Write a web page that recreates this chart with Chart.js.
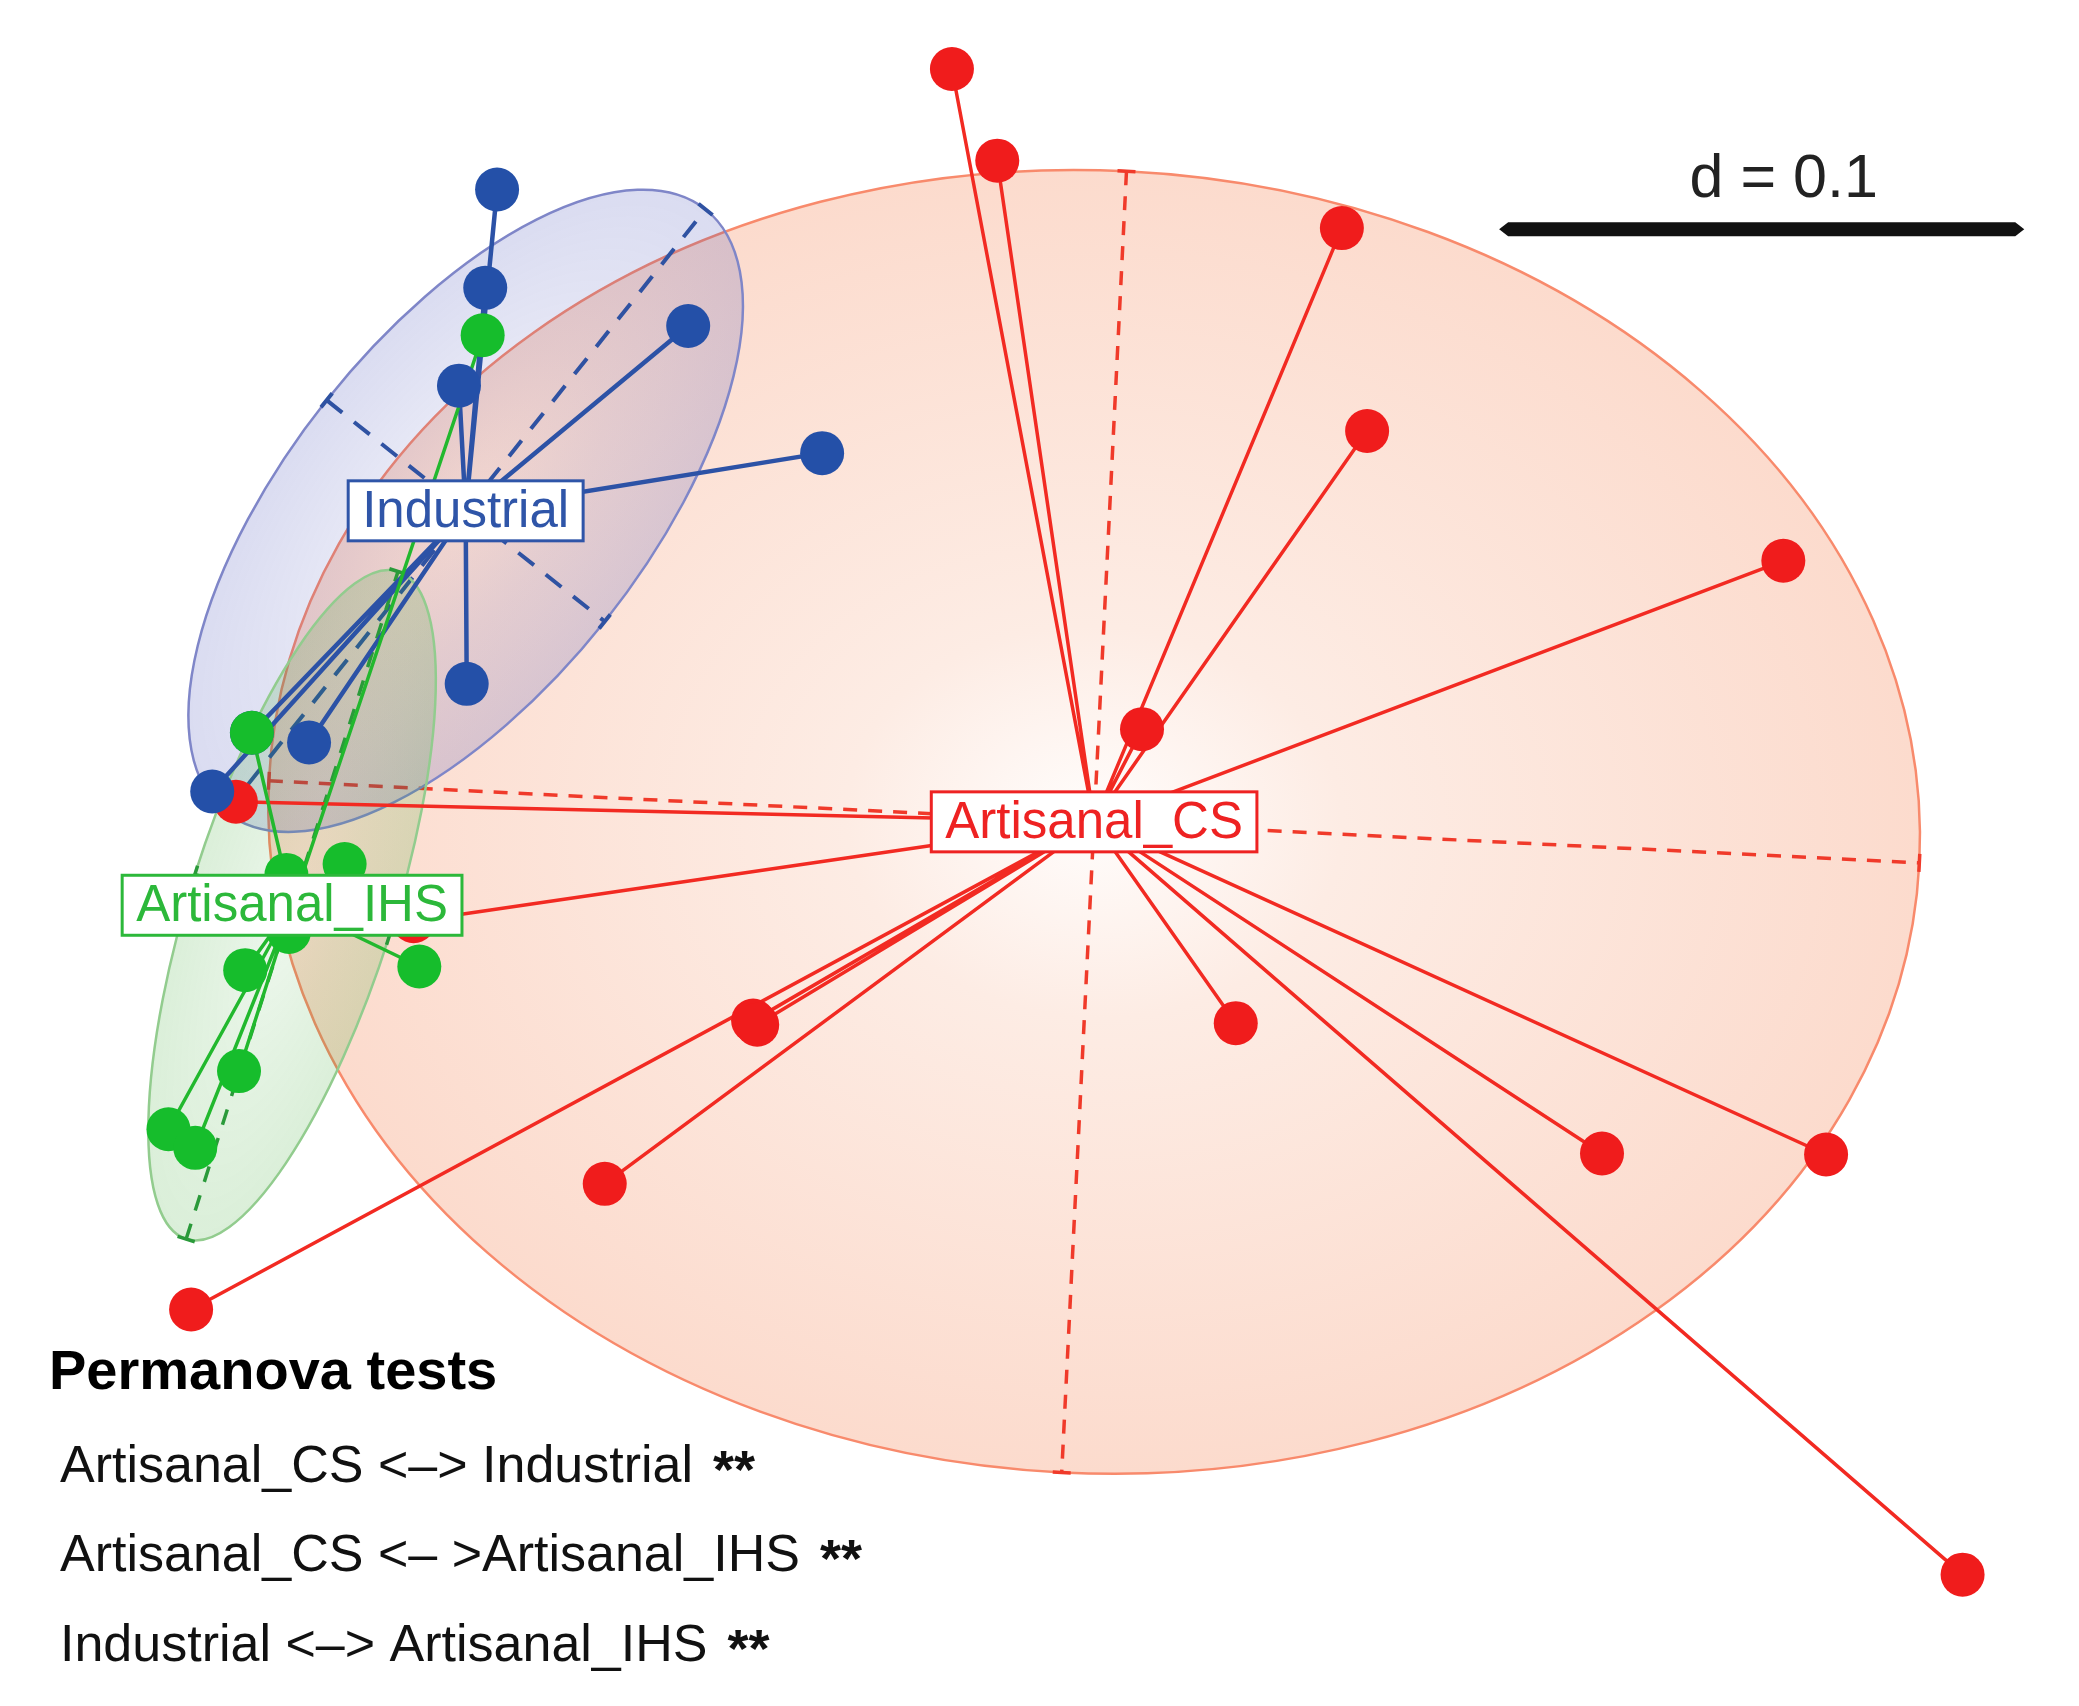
<!DOCTYPE html>
<html>
<head>
<meta charset="utf-8">
<script src="https://cdn.jsdelivr.net/npm/chart.js@4.4.0/dist/chart.umd.min.js"></script>
<style>
html,body{margin:0;padding:0;background:#ffffff;}
#wrap{width:2079px;height:1706px;position:relative;}
</style>
</head>
<body>
<div id="wrap"><canvas id="c" width="2079" height="1706"></canvas></div>
<script>
// ---- Data (ordination coordinates) ----
const groups = ['Artisanal_CS', 'Industrial', 'Artisanal_IHS'];

const artisanalCS_x = [-0.0160, -0.0072, 0.0597, 0.0646, 0.1454, 0.0209, -0.1550, -0.1205, -0.0546, -0.0538, -0.0834, -0.1637, 0.0391, 0.1102, 0.1537, 0.1802];
const artisanalCS_y = [0.1462, 0.1284, 0.1153, 0.0759, 0.0507, 0.0180, 0.0039, -0.0193, -0.0386, -0.0394, -0.0703, -0.0947, -0.0391, -0.0644, -0.0646, -0.1462];

const industrial_x = [-0.1043, -0.1066, -0.0672, -0.1117, -0.0412, -0.1102, -0.1408, -0.1596, -0.1519];
const industrial_y = [0.1228, 0.1037, 0.0963, 0.0847, 0.0716, 0.0268, 0.0154, 0.0059, 0.0173];

const artisanalIHS_x = [-0.1071, -0.1519, -0.1452, -0.1339, -0.1447, -0.1532, -0.1194, -0.1544, -0.1681, -0.1629];
const artisanalIHS_y = [0.0945, 0.0173, -0.0103, -0.0082, -0.0214, -0.0288, -0.0281, -0.0484, -0.0597, -0.0633];

// group centroids (label positions) and inertia ellipses
const centroid_x = [0.0116, -0.1104, -0.1441];
const centroid_y = [0.0000, 0.0604, -0.0162];
const ellipse_a = [0.1604, 0.0748, 0.0680];
const ellipse_b = [0.1265, 0.0345, 0.0198];
const ellipse_angle = [-2.85, 51.5, 72.4];

const scaleBarStart_x = 0.0912;
const scaleBar_y = 0.1151;
const scaleBarLength = 0.1;
const scaleBarLabel = 'd = 0.1';

const permanovaTitle = 'Permanova tests';
const permanovaPairs = ['Artisanal_CS <\u2013> Industrial', 'Artisanal_CS <\u2013 >Artisanal_IHS', 'Industrial <\u2013> Artisanal_IHS'];
const permanovaSig = ['**', '**', '**'];

const axisX = [-0.2008, 0.2028];
const axisY = [-0.1717, 0.1596];

// ---- Styles ----
const pointColors = ['#f01c1c', '#2450a8', '#16bd2c'];
const lineColors = ['#f22a22', '#2c52a6', '#22b82e'];
const labelColors = ['#ee2222', '#2f55a8', '#2cb83a'];
const outlineColors = ['#f88a6c', '#7f86c8', '#92cc8e'];
const axisColors = ['#f03a2a', '#2f52a2', '#2a9a3a'];
const FONT = '"Liberation Sans", Arial, Helvetica, sans-serif';

const xs = [artisanalCS_x, industrial_x, artisanalIHS_x];
const ys = [artisanalCS_y, industrial_y, artisanalIHS_y];

function pointsOf(g) { return xs[g].map((x, i) => ({x: x, y: ys[g][i]})); }
function starOf(g) {
  const out = [];
  xs[g].forEach((x, i) => {
    out.push({x: centroid_x[g], y: centroid_y[g]});
    out.push({x: x, y: ys[g][i]});
    out.push({x: null, y: null});
  });
  return out;
}

const lineWidths = [3.5, 4.5, 3.5];
const datasets = [];
[0, 1, 2].forEach(g => {
  datasets.push({
    label: groups[g] + ' links',
    data: starOf(g),
    showLine: true,
    spanGaps: false,
    borderColor: lineColors[g],
    borderWidth: lineWidths[g],
    pointRadius: 0,
    order: 10 - g
  });
});
[0, 1, 2].forEach(g => {
  datasets.push({
    label: groups[g],
    data: pointsOf(g),
    showLine: false,
    backgroundColor: pointColors[g],
    borderWidth: 0,
    pointRadius: 22,
    order: 5 - g
  });
});

function ellipseGeom(chart, i) {
  const sx = chart.scales.x, sy = chart.scales.y;
  const t = ellipse_angle[i] * Math.PI / 180;
  const cx = centroid_x[i], cy = centroid_y[i];
  const P = (dx, dy) => [sx.getPixelForValue(cx + dx), sy.getPixelForValue(cy + dy)];
  const c = P(0, 0);
  const ma = P(ellipse_a[i] * Math.cos(t), ellipse_a[i] * Math.sin(t));
  const mb = P(-ellipse_b[i] * Math.sin(t), ellipse_b[i] * Math.cos(t));
  return {
    c: c,
    ra: Math.hypot(ma[0] - c[0], ma[1] - c[1]),
    rb: Math.hypot(mb[0] - c[0], mb[1] - c[1]),
    rot: Math.atan2(ma[1] - c[1], ma[0] - c[0])
  };
}

const gradStops = [
  [[0, 'rgba(255,253,252,1)'], [0.3, 'rgba(253,236,228,1)'], [1, 'rgba(252,219,205,1)']],
  [[0, 'rgba(60,70,180,0.05)'], [0.5, 'rgba(60,70,180,0.13)'], [1, 'rgba(60,70,180,0.19)']],
  [[0, 'rgba(40,160,30,0.08)'], [0.5, 'rgba(40,160,30,0.13)'], [1, 'rgba(40,160,30,0.17)']]
];
const dashes = [[14, 11], [20, 15], [16, 14]];
const axisWidths = [3.5, 4, 3.5];

const ellipsePlugin = {
  id: 'ellipses',
  beforeDatasetsDraw(chart) {
    const ctx = chart.ctx;
    [0, 1, 2].forEach(i => {
      const e = ellipseGeom(chart, i);
      // fill
      ctx.save();
      ctx.translate(e.c[0], e.c[1]);
      ctx.rotate(e.rot);
      ctx.scale(1, e.rb / e.ra);
      const g = ctx.createRadialGradient(0, 0, 0, 0, 0, e.ra);
      gradStops[i].forEach(s => g.addColorStop(s[0], s[1]));
      ctx.fillStyle = g;
      ctx.beginPath();
      ctx.arc(0, 0, e.ra, 0, Math.PI * 2);
      ctx.fill();
      ctx.restore();
      // outline + axes
      ctx.save();
      ctx.translate(e.c[0], e.c[1]);
      ctx.rotate(e.rot);
      ctx.beginPath();
      ctx.ellipse(0, 0, e.ra, e.rb, 0, 0, Math.PI * 2);
      ctx.strokeStyle = outlineColors[i];
      ctx.lineWidth = 2.5;
      ctx.stroke();
      ctx.setLineDash(dashes[i]);
      ctx.strokeStyle = axisColors[i];
      ctx.lineWidth = axisWidths[i];
      ctx.beginPath();
      ctx.moveTo(-e.ra, 0); ctx.lineTo(e.ra, 0);
      ctx.moveTo(0, -e.rb); ctx.lineTo(0, e.rb);
      ctx.stroke();
      ctx.setLineDash([]);
      ctx.beginPath();
      const tk = 9;
      ctx.moveTo(-e.ra, -tk); ctx.lineTo(-e.ra, tk);
      ctx.moveTo(e.ra, -tk); ctx.lineTo(e.ra, tk);
      ctx.moveTo(-tk, -e.rb); ctx.lineTo(tk, -e.rb);
      ctx.moveTo(-tk, e.rb); ctx.lineTo(tk, e.rb);
      ctx.stroke();
      ctx.restore();
    });
  },
  afterDatasetsDraw(chart) {
    const ctx = chart.ctx;
    const sx = chart.scales.x, sy = chart.scales.y;
    [0, 1, 2].forEach(i => {
      const px = sx.getPixelForValue(centroid_x[i]);
      const py = sy.getPixelForValue(centroid_y[i]);
      ctx.save();
      ctx.font = '51px ' + FONT;
      const w = ctx.measureText(groups[i]).width + 28, h = 60;
      ctx.fillStyle = '#ffffff';
      ctx.fillRect(px - w / 2, py - h / 2, w, h);
      ctx.lineWidth = 3;
      ctx.strokeStyle = labelColors[i];
      ctx.strokeRect(px - w / 2, py - h / 2, w, h);
      ctx.fillStyle = labelColors[i];
      ctx.textAlign = 'center';
      ctx.textBaseline = 'middle';
      ctx.fillText(groups[i], px, py + 2);
      ctx.restore();
    });
  },
  afterDraw(chart) {
    const ctx = chart.ctx;
    const sx = chart.scales.x, sy = chart.scales.y;
    // scale bar
    const x0 = sx.getPixelForValue(scaleBarStart_x);
    const x1 = sx.getPixelForValue(scaleBarStart_x + scaleBarLength);
    const yb = sy.getPixelForValue(scaleBar_y);
    ctx.save();
    ctx.fillStyle = '#111111';
    ctx.beginPath();
    ctx.moveTo(x0 - 5, yb);
    ctx.lineTo(x0 + 4, yb - 7);
    ctx.lineTo(x1 - 4, yb - 7);
    ctx.lineTo(x1 + 5, yb);
    ctx.lineTo(x1 - 4, yb + 7);
    ctx.lineTo(x0 + 4, yb + 7);
    ctx.closePath();
    ctx.fill();
    ctx.font = '61px ' + FONT;
    ctx.fillStyle = '#222222';
    ctx.textAlign = 'center';
    ctx.textBaseline = 'alphabetic';
    ctx.fillText(scaleBarLabel, (x0 + x1) / 2 + 22, yb - 32);
    // permanova block
    ctx.textAlign = 'left';
    ctx.fillStyle = '#000000';
    ctx.font = 'bold 56px ' + FONT;
    ctx.fillText(permanovaTitle, 49, 1389);
    const baselines = [1482, 1571, 1661];
    permanovaPairs.forEach((t, i) => {
      ctx.font = '52px ' + FONT;
      ctx.fillStyle = '#111111';
      ctx.fillText(t, 60, baselines[i]);
      const w = ctx.measureText(t).width;
      ctx.font = 'bold 54px ' + FONT;
      ctx.fillText(permanovaSig[i], 60 + w + 20, baselines[i] + 6);
    });
    ctx.restore();
  }
};

new Chart(document.getElementById('c'), {
  type: 'scatter',
  data: { datasets: datasets },
  options: {
    responsive: false,
    animation: false,
    events: [],
    layout: { padding: 0, autoPadding: false },
    plugins: { legend: { display: false }, tooltip: { enabled: false }, title: { display: false } },
    scales: {
      x: { type: 'linear', display: false, min: axisX[0], max: axisX[1] },
      y: { type: 'linear', display: false, min: axisY[0], max: axisY[1] }
    }
  },
  plugins: [ellipsePlugin]
});
</script>
</body>
</html>
